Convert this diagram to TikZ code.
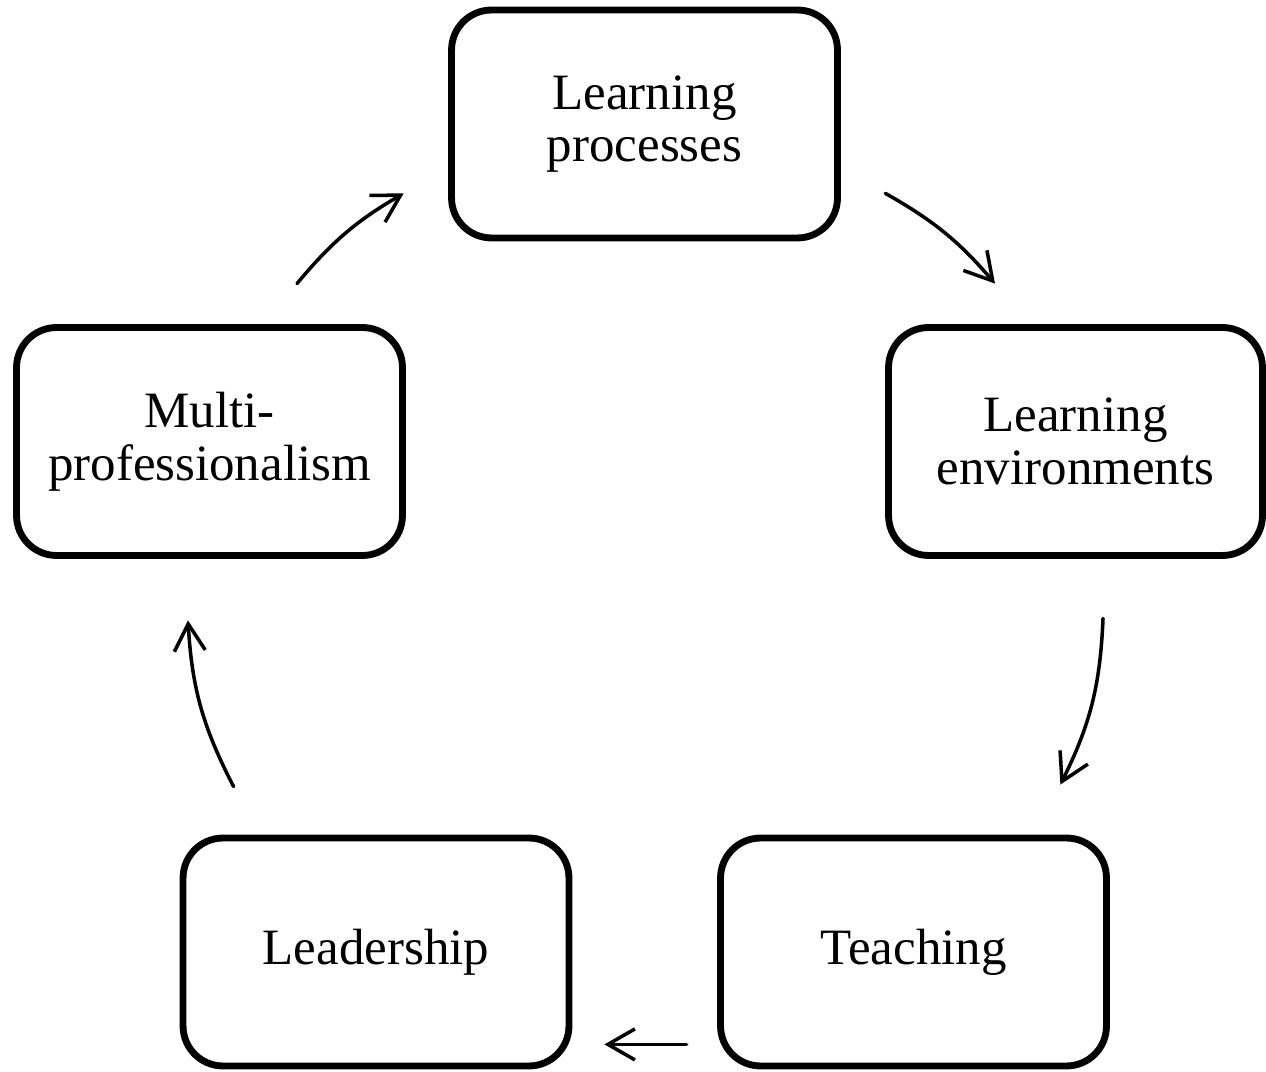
\documentclass[tikz,border=0pt]{standalone}
\usepackage{fontspec}
\setmainfont{Liberation Serif}
\usepackage{tikz}
\usetikzlibrary{positioning,arrows.meta,calc}

\begin{document}
\begin{tikzpicture}[
    x=0.02cm, y=0.02cm,
    stage/.style={draw, line width=3.9pt, rounded corners=0.8cm, minimum width=7.72cm, minimum height=4.56cm, align=center, inner sep=0pt, font=\fontsize{29}{30}\selectfont},
    cyc/.style={-{Straight Barb[length=5.4mm, width=6.2mm, line width=2pt]}, line width=2pt, line cap=round}
]
\useasboundingbox (0,0) rectangle (1266,1071);

% Stages
\node[stage] (proc) at (644.5,947) {Learning\\processes};
\node[stage, minimum width=7.48cm] (env) at (1075.5,629.5) {Learning\\environments};
\node[stage] (teach) at (913.5,119) {Teaching};
\node[stage] (lead) at (376,119) {Leadership};
\node[stage] (multi) at (209.5,629.5) {Multi-\\professionalism};

% Cycle arrows
\draw[cyc] ($(proc.south east)+(44.5,48)$) to[bend left=10] ($(env.north)+(-80.5,40.5)$);
\draw[cyc] ($(env.south)+(27.5,-59.5)$) to[bend left=12] ($(teach.north east)+(-49.5,50)$);
\draw[cyc] ($(teach.south west)+(-30.5,25)$) -- ($(lead.south east)+(32,25)$);
\draw[cyc] ($(lead.north west)+(54,48)$) to[bend left=12] ($(multi.south)+(-21.5,-61.5)$);
\draw[cyc] ($(multi.north)+(87.5,40.5)$) to[bend left=10] ($(proc.south west)+(-44.5,48)$);

\end{tikzpicture}
\end{document}
